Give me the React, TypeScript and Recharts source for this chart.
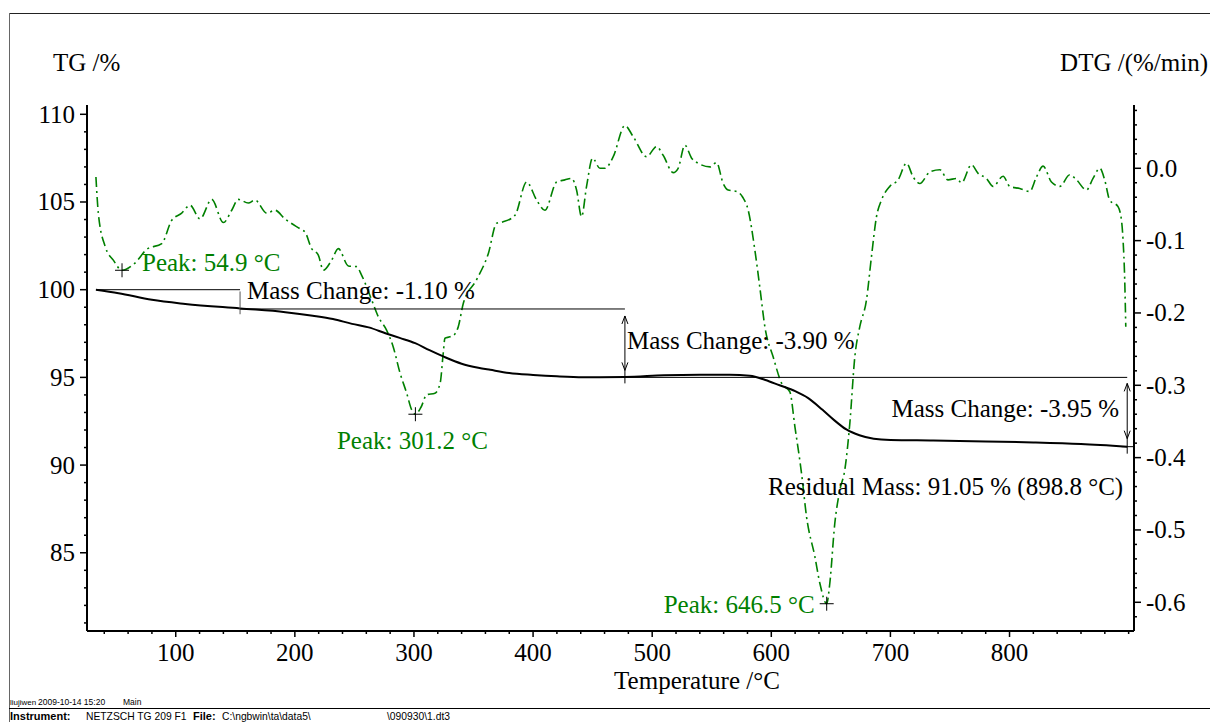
import React from 'react';
import { ComposedChart, Line, XAxis, YAxis, ReferenceLine, ReferenceDot } from 'recharts';

// ---- TG curve (mass %, vs temperature °C)
const tgTemps = [33, 52, 80, 108, 154, 192, 215, 232, 248, 262, 276, 288, 301, 313, 325, 340, 354, 364, 380, 400, 420, 442, 477, 510, 540, 565, 582, 595, 607, 620, 631, 643, 653, 663, 674, 686, 700, 736, 780, 820, 860, 898.8];
const tgValues = [100.0, 99.8, 99.42, 99.19, 98.93, 98.72, 98.52, 98.33, 98.05, 97.85, 97.52, 97.25, 96.95, 96.55, 96.18, 95.78, 95.55, 95.43, 95.25, 95.14, 95.06, 95.01, 95.02, 95.12, 95.15, 95.15, 95.09, 94.85, 94.55, 94.22, 93.82, 93.15, 92.55, 92.03, 91.7, 91.5, 91.43, 91.4, 91.35, 91.29, 91.2, 91.05];

// ---- DTG curve (%/min, vs temperature °C)
const dtgTemps = [33, 35, 40.7, 47.6, 54.9, 65.8, 75.7, 88.3, 96.6, 105, 112, 120.4, 130.2, 140, 147, 152.5, 160.9, 166.6, 176.4, 183.3, 191.7, 205.7, 208.5, 214.1, 219.7, 223.9, 230.9, 236.5, 244.9, 251.9, 256.1, 264.5, 270, 277.1, 282.6, 288.3, 293.9, 298.1, 301.2, 306, 310.7, 317.6, 322, 324.6, 326, 330.2, 334.4, 337.2, 341.4, 352.6, 362.4, 369.4, 374.9, 384.8, 394.6, 403, 409.9, 419.8, 426.7, 432.3, 436.5, 440.7, 444.9, 450, 456.1, 460.3, 467.3, 477.1, 484, 495.3, 503.7, 509.2, 517.6, 521.8, 527.4, 533.1, 538.6, 548.6, 554, 559.6, 563.8, 570.8, 576, 580.6, 586.2, 590.4, 594.6, 601.6, 608.6, 615.6, 619.8, 625.4, 629.6, 636.6, 640.8, 646.5, 649.1, 653.3, 657.5, 661.7, 665.9, 670.1, 674.3, 679.9, 684.1, 688.3, 692.5, 699.5, 706.5, 713.5, 719.1, 724.7, 733.1, 741.5, 748.4, 755.5, 759.7, 768, 773.6, 780.6, 786.2, 794.6, 800.2, 808.6, 817, 822.6, 828.2, 835.2, 842.2, 850.6, 856.2, 864.6, 870.1, 875.8, 879.9, 884.1, 891.1, 894, 895.3, 896.7, 897.6];
const dtgValues = [-0.012, -0.062, -0.108, -0.127, -0.141, -0.131, -0.112, -0.104, -0.072, -0.062, -0.051, -0.07, -0.043, -0.075, -0.058, -0.043, -0.048, -0.044, -0.062, -0.058, -0.07, -0.085, -0.088, -0.111, -0.12, -0.141, -0.127, -0.111, -0.135, -0.136, -0.148, -0.182, -0.205, -0.224, -0.247, -0.283, -0.311, -0.334, -0.34, -0.33, -0.313, -0.311, -0.297, -0.255, -0.235, -0.233, -0.229, -0.219, -0.187, -0.154, -0.118, -0.076, -0.074, -0.065, -0.019, -0.044, -0.058, -0.019, -0.016, -0.014, -0.03, -0.067, -0.025, 0.014, 0.0, 0.0, 0.016, 0.059, 0.044, 0.016, 0.03, 0.018, -0.006, 0.0, 0.032, 0.014, 0.007, 0.002, 0.008, -0.021, -0.03, -0.032, -0.04, -0.058, -0.113, -0.165, -0.219, -0.261, -0.297, -0.309, -0.357, -0.422, -0.482, -0.537, -0.574, -0.602, -0.574, -0.491, -0.445, -0.417, -0.353, -0.261, -0.219, -0.182, -0.122, -0.067, -0.044, -0.025, -0.016, 0.007, -0.012, -0.021, -0.005, -0.002, -0.016, -0.014, -0.02, 0.005, -0.007, -0.014, -0.025, -0.011, -0.025, -0.028, -0.032, -0.012, 0.003, -0.019, -0.025, -0.009, -0.016, -0.03, -0.014, 0.0, -0.016, -0.044, -0.053, -0.072, -0.099, -0.154, -0.219];

// ---- axes ticks
const xTicks = [40, 60, 80, 100, 120, 140, 160, 180, 200, 220, 240, 260, 280, 300, 320, 340, 360, 380, 400, 420, 440, 460, 480, 500, 520, 540, 560, 580, 600, 620, 640, 660, 680, 700, 720, 740, 760, 780, 800, 820, 840, 860, 880, 900];
const xLabelTicks = [100, 200, 300, 400, 500, 600, 700, 800];
const tgTicks = [81, 82, 83, 84, 85, 86, 87, 88, 89, 90, 91, 92, 93, 94, 95, 96, 97, 98, 99, 100, 101, 102, 103, 104, 105, 106, 107, 108, 109, 110];
const tgLabelTicks = [85, 90, 95, 100, 105, 110];
const dtgTicks = [-0.62, -0.6, -0.58, -0.56, -0.54, -0.52, -0.5, -0.48, -0.46, -0.44, -0.42, -0.4, -0.38, -0.36, -0.34, -0.32, -0.3, -0.28, -0.26, -0.24, -0.22, -0.2, -0.18, -0.16, -0.14, -0.12, -0.1, -0.08, -0.06, -0.04, -0.02, 0, 0.02, 0.04, 0.06, 0.08];
const dtgLabelTicks = ['0.0', '-0.1', '-0.2', '-0.3', '-0.4', '-0.5', '-0.6'];

// ---- annotations
const peakTemps = [54.9, 301.2, 646.5];
const peakValues = [-0.141, -0.34, -0.602];
const peakLabels = ['Peak: 54.9 °C', 'Peak: 301.2 °C', 'Peak: 646.5 °C'];
const stepTemps = [33, 154, 477.1, 898.8];
const stepMasses = [100.0, 98.9, 95.0, 91.05];
const massChangeLabels = ['Mass Change: -1.10 %', 'Mass Change: -3.90 %', 'Mass Change: -3.95 %'];
const residualLabel = 'Residual Mass: 91.05 % (898.8 °C)';

const tgData = tgTemps.map((t, i) => ({ t, v: tgValues[i] }));
const dtgData = dtgTemps.map((t, i) => ({ t, v: dtgValues[i] }));

const SERIF = '"Liberation Serif", "Times New Roman", serif';
const SANS = '"Liberation Sans", Arial, sans-serif';
const GREEN = '#008000';
const FS = 25;

const XTick = (props: any) => {
  const { x, y, payload } = props;
  const v = payload.value;
  const major = xLabelTicks.indexOf(v) >= 0;
  return (
    <g>
      <line x1={x} y1={y} x2={x} y2={y + (major ? 6 : 3)} stroke="#000" strokeWidth={1.5} />
      {major && (
        <text x={x} y={y + 21} textAnchor="middle" dominantBaseline="central" fontFamily={SERIF} fontSize={FS} fill="#000">
          {v}
        </text>
      )}
    </g>
  );
};

const TgTick = (props: any) => {
  const { x, y, payload } = props;
  const v = payload.value;
  const major = tgLabelTicks.indexOf(v) >= 0;
  return (
    <g>
      <line x1={x - (major ? 7 : 3)} y1={y} x2={x} y2={y} stroke="#000" strokeWidth={1.5} />
      {major && (
        <text x={x - 12} y={y} textAnchor="end" dominantBaseline="central" fontFamily={SERIF} fontSize={FS} fill="#000">
          {v}
        </text>
      )}
    </g>
  );
};

const DtgTick = (props: any) => {
  const { x, y, payload } = props;
  const v = payload.value;
  const label = v.toFixed(1) === '-0.0' ? '0.0' : v.toFixed(1);
  const major = Math.abs(Math.round(v * 10) - v * 10) < 1e-6 && dtgLabelTicks.indexOf(label) >= 0;
  return (
    <g>
      <line x1={x} y1={y} x2={x + (major ? 7 : 3)} y2={y} stroke="#000" strokeWidth={1.5} />
      {major && (
        <text x={x + 12} y={y} textAnchor="start" dominantBaseline="central" fontFamily={SERIF} fontSize={FS} fill="#000">
          {label}
        </text>
      )}
    </g>
  );
};

const crossShape = (p: any) => (
  <g>
    <line x1={p.cx - 7} y1={p.cy} x2={p.cx + 7} y2={p.cy} stroke="#000" strokeWidth={1} />
    <line x1={p.cx} y1={p.cy - 7} x2={p.cx} y2={p.cy + 7} stroke="#000" strokeWidth={1} />
  </g>
);

const textShape = (label: string, dx: number, dy: number, anchor: string, color: string) => (p: any) => (
  <text x={p.cx + dx} y={p.cy + dy} textAnchor={anchor} dominantBaseline="central" fontFamily={SERIF} fontSize={FS} fill={color}>
    {label}
  </text>
);

const arrowShape = (topGap: number, botGap: number, extend: number) => (p: any) => {
  const x = p.x1;
  const yTop = Math.min(p.y1, p.y2);
  const yBot = Math.max(p.y1, p.y2);
  const tTip = yTop + topGap;
  const bTip = yBot - botGap;
  return (
    <g>
      <line x1={x} y1={tTip} x2={x} y2={yBot + extend} stroke="#000" strokeWidth={1} />
      <polyline points={`${x - 3},${tTip + 8} ${x},${tTip} ${x + 3},${tTip + 8}`} fill="none" stroke="#000" strokeWidth={1} />
      <polyline points={`${x - 3},${bTip - 8} ${x},${bTip} ${x + 3},${bTip - 8}`} fill="none" stroke="#000" strokeWidth={1} />
    </g>
  );
};

export default function App() {
  return (
    <div style={{ position: 'absolute', left: 0, top: 0, width: 1210, height: 722, background: '#fff', overflow: 'hidden' }}>
      <svg width={1210} height={722} style={{ position: 'absolute', left: 0, top: 0 }}>
        <line x1={9} y1={13.5} x2={1210} y2={13.5} stroke="#222" strokeWidth={1} />
        <line x1={9.5} y1={13} x2={9.5} y2={722} stroke="#666" strokeWidth={1} />
        <line x1={9} y1={708.5} x2={1210} y2={708.5} stroke="#000" strokeWidth={1} />
        <text x={10} y={705} fontFamily={SANS} fontSize={8} fill="#000">liujiwen</text>
        <text x={38} y={705} fontFamily={SANS} fontSize={8.5} fill="#000">2009-10-14 15:20</text>
        <text x={123} y={705} fontFamily={SANS} fontSize={8.5} fill="#000">Main</text>
        <text x={10} y={720} fontFamily={SANS} fontSize={11} fontWeight="bold" fill="#000">Instrument:</text>
        <text x={86} y={720} fontFamily={SANS} fontSize={10.3} fill="#000">NETZSCH TG 209 F1</text>
        <text x={193} y={720} fontFamily={SANS} fontSize={11} fontWeight="bold" fill="#000">File:</text>
        <text x={222} y={720} fontFamily={SANS} fontSize={10.3} fill="#000">C:\ngbwin\ta\data5\</text>
        <text x={387} y={720} fontFamily={SANS} fontSize={10.3} fill="#000">\090930\1.dt3</text>
      </svg>
      <div style={{ position: 'absolute', left: 0, top: 0 }}>
        <ComposedChart width={1210} height={722} margin={{ top: 105, right: 16, bottom: 51, left: 27 }}>
          <XAxis
            dataKey="t"
            type="number"
            domain={[25.5, 904.5]}
            allowDataOverflow
            ticks={xTicks}
            interval={0}
            tickSize={0}
            tickMargin={0}
            tickLine={false}
            tick={XTick}
            height={40}
            axisLine={{ stroke: '#000', strokeWidth: 2 }}
            label={(p: any) => (
              <text x={p.viewBox.x + 610} y={p.viewBox.y + 49} textAnchor="middle" dominantBaseline="central" fontFamily={SERIF} fontSize={FS} fill="#000">
                Temperature /°C
              </text>
            )}
          />
          <YAxis
            yAxisId="tg"
            orientation="left"
            type="number"
            domain={[80.54, 110.53]}
            allowDataOverflow
            ticks={tgTicks}
            interval={0}
            tickSize={0}
            tickMargin={0}
            tickLine={false}
            tick={TgTick}
            width={60}
            axisLine={{ stroke: '#000', strokeWidth: 2 }}
            label={(p: any) => (
              <text x={p.viewBox.x + 26} y={p.viewBox.y - 43} textAnchor="start" dominantBaseline="central" fontFamily={SERIF} fontSize={FS} fill="#000">
                TG /%
              </text>
            )}
          />
          <YAxis
            yAxisId="dtg"
            orientation="right"
            type="number"
            domain={[-0.6397, 0.0875]}
            allowDataOverflow
            ticks={dtgTicks}
            interval={0}
            tickSize={0}
            tickMargin={0}
            tickLine={false}
            tick={DtgTick}
            width={60}
            axisLine={{ stroke: '#000', strokeWidth: 2 }}
            label={(p: any) => (
              <text x={p.viewBox.x + 74} y={p.viewBox.y - 43} textAnchor="end" dominantBaseline="central" fontFamily={SERIF} fontSize={FS} fill="#000">
                DTG /(%/min)
              </text>
            )}
          />

          <Line
            yAxisId="dtg"
            data={dtgData}
            dataKey="v"
            type="monotone"
            stroke={GREEN}
            strokeWidth={1.6}
            strokeDasharray="10 4 2 4"
            dot={false}
            activeDot={false}
            isAnimationActive={false}
          />
          <Line
            yAxisId="tg"
            data={tgData}
            dataKey="v"
            type="monotone"
            stroke="#000"
            strokeWidth={2}
            dot={false}
            activeDot={false}
            isAnimationActive={false}
          />

          {/* Mass change 1 */}
          <ReferenceLine yAxisId="tg" segment={[{ x: stepTemps[0], y: stepMasses[0] }, { x: stepTemps[1], y: stepMasses[0] }]} stroke="#000" strokeWidth={1} />
          <ReferenceLine yAxisId="tg" segment={[{ x: stepTemps[1], y: 99.9 }, { x: stepTemps[1], y: 98.6 }]} stroke="#555" strokeWidth={1} />
          <ReferenceLine yAxisId="tg" segment={[{ x: stepTemps[1], y: stepMasses[1] }, { x: stepTemps[2], y: stepMasses[1] }]} stroke="#000" strokeWidth={1} />
          {/* Mass change 2 */}
          <ReferenceLine yAxisId="tg" segment={[{ x: stepTemps[2], y: stepMasses[1] }, { x: stepTemps[2], y: stepMasses[2] }]} shape={arrowShape(7, 7, 6)} />
          <ReferenceLine yAxisId="tg" segment={[{ x: stepTemps[2], y: stepMasses[2] }, { x: stepTemps[3], y: stepMasses[2] }]} stroke="#000" strokeWidth={1} />
          {/* Mass change 3 */}
          <ReferenceLine yAxisId="tg" segment={[{ x: stepTemps[3], y: stepMasses[2] }, { x: stepTemps[3], y: stepMasses[3] }]} shape={arrowShape(6, 8, 7)} />
          <ReferenceLine yAxisId="tg" segment={[{ x: 894, y: stepMasses[3] }, { x: 904, y: stepMasses[3] }]} stroke="#000" strokeWidth={1} />

          <ReferenceDot yAxisId="tg" x={stepTemps[1]} y={stepMasses[0]} shape={textShape(massChangeLabels[0], 7, 1, 'start', '#000')} />
          <ReferenceDot yAxisId="tg" x={stepTemps[2]} y={(stepMasses[1] + stepMasses[2]) / 2} shape={textShape(massChangeLabels[1], 2, -3, 'start', '#000')} />
          <ReferenceDot yAxisId="tg" x={stepTemps[3]} y={(stepMasses[2] + stepMasses[3]) / 2} shape={textShape(massChangeLabels[2], -8, -4, 'end', '#000')} />
          <ReferenceDot yAxisId="tg" x={stepTemps[3]} y={stepMasses[3]} shape={textShape(residualLabel, -4, 40, 'end', '#000')} />

          {/* Peaks */}
          <ReferenceDot yAxisId="dtg" x={peakTemps[0]} y={peakValues[0]} shape={crossShape} />
          <ReferenceDot yAxisId="dtg" x={peakTemps[1]} y={peakValues[1]} shape={crossShape} />
          <ReferenceDot yAxisId="dtg" x={peakTemps[2]} y={peakValues[2]} shape={crossShape} />
          <ReferenceDot yAxisId="dtg" x={peakTemps[0]} y={peakValues[0]} shape={textShape(peakLabels[0], 20, -8, 'start', GREEN)} />
          <ReferenceDot yAxisId="dtg" x={peakTemps[1]} y={peakValues[1]} shape={textShape(peakLabels[1], -3, 26, 'middle', GREEN)} />
          <ReferenceDot yAxisId="dtg" x={peakTemps[2]} y={peakValues[2]} shape={textShape(peakLabels[2], -12, 1, 'end', GREEN)} />
        </ComposedChart>
      </div>
    </div>
  );
}
